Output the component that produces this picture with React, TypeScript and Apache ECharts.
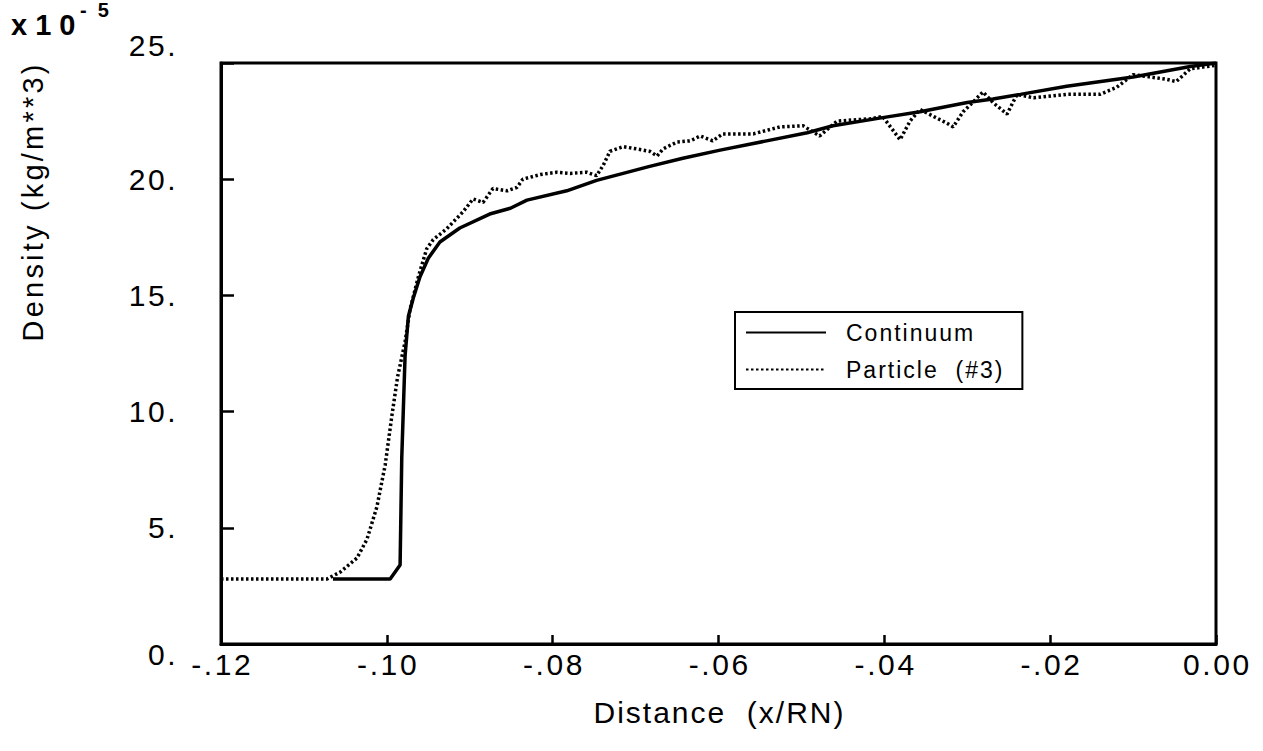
import React, { useEffect, useRef } from "react";
import * as echarts from "echarts";

const FONT = '"Liberation Sans", Arial, Helvetica, sans-serif';

// Continuum (solid): [x/RN, density x 1e-5 kg/m^3]
const continuum: [number, number][] = [
  [-0.1065, 2.8], [-0.0996, 2.8], [-0.0984, 3.4], [-0.0982, 8.0], [-0.0978, 12.4],
  [-0.0974, 14.1], [-0.0968, 14.9], [-0.096, 15.8], [-0.095, 16.6], [-0.0936, 17.3],
  [-0.0912, 17.9], [-0.0876, 18.5], [-0.0851, 18.75], [-0.0831, 19.1], [-0.0783, 19.5],
  [-0.0747, 19.95], [-0.0683, 20.55], [-0.0643, 20.9], [-0.0598, 21.25], [-0.0542, 21.65],
  [-0.0493, 22.0], [-0.0462, 22.3], [-0.0402, 22.65], [-0.0357, 22.9], [-0.03, 23.3],
  [-0.0269, 23.45], [-0.0236, 23.65], [-0.018, 24.0], [-0.01, 24.4], [-0.0031, 24.85],
  [0, 25.0],
];

// Particle (#3) (dotted)
const particle: [number, number][] = [
  [-0.12, 2.8], [-0.1072, 2.8], [-0.1056, 3.1], [-0.1036, 3.7], [-0.1024, 4.5],
  [-0.1012, 5.9], [-0.1002, 7.7], [-0.0994, 9.8], [-0.0987, 11.5], [-0.0978, 13.0],
  [-0.0972, 14.4], [-0.0962, 15.8], [-0.0952, 17.0], [-0.0944, 17.4], [-0.0928, 17.86],
  [-0.0908, 18.6], [-0.0896, 19.15], [-0.0884, 19.0], [-0.0872, 19.6], [-0.0855, 19.5],
  [-0.0843, 19.65], [-0.0836, 20.0], [-0.0815, 20.2], [-0.0795, 20.3], [-0.0779, 20.25],
  [-0.0759, 20.3], [-0.0747, 20.15], [-0.0739, 20.6], [-0.0731, 21.2], [-0.0715, 21.4],
  [-0.0698, 21.3], [-0.0683, 21.2], [-0.0674, 21.0], [-0.0667, 21.3], [-0.065, 21.6],
  [-0.0634, 21.65], [-0.0622, 21.86], [-0.0607, 21.65], [-0.0595, 21.95], [-0.0558, 21.95],
  [-0.0526, 22.25], [-0.0498, 22.3], [-0.0478, 21.86], [-0.0457, 22.5], [-0.0417, 22.6],
  [-0.0402, 22.7], [-0.0381, 21.7], [-0.0369, 22.5], [-0.0357, 23.0], [-0.0324, 22.4],
  [-0.0317, 22.25], [-0.0305, 22.9], [-0.0281, 23.75], [-0.0269, 23.3], [-0.0252, 22.8],
  [-0.024, 23.65], [-0.022, 23.5], [-0.018, 23.65], [-0.014, 23.65], [-0.012, 23.95],
  [-0.01, 24.5], [-0.006, 24.3], [-0.0048, 24.2], [-0.0031, 24.75], [0, 24.9],
];

const seriesNames = ["Continuum", "Particle\u00a0\u00a0(#3)"];
const xAxisTitle = "Distance  (x/RN)";
const yAxisTitle = "Density (kg/m**3)";
const scaleMain = "x 1 0";
const scaleExp = "-  5";

function spaced(s: string, style: string): string {
  return s
    .split("")
    .map((ch) => `{${style}|${ch === " " ? "\u00a0" : ch}}`)
    .join("");
}

function xLabel(v: number): string {
  const n = Math.round(Math.abs(v) * 100);
  if (n === 0) return "0.00";
  return "-." + String(n).padStart(2, "0");
}

export default function App() {
  const ref = useRef<HTMLDivElement>(null);
  useEffect(() => {
    if (!ref.current) return;
    const chart = echarts.init(ref.current, null, { renderer: "svg" });
    const tick = { fontSize: 30, fontFamily: FONT, color: "#000", padding: [0, 1.3, 0, 1.3] };
    chart.setOption({
      animation: false,
      backgroundColor: "#fff",
      color: ["#000", "#000"],
      textStyle: { fontFamily: FONT, color: "#000" },
      grid: {
        left: 221,
        top: 63,
        right: 47,
        bottom: 107,
        show: true,
        borderColor: "#000",
        borderWidth: 3,
      },
      legend: {
        orient: "vertical",
        left: 735,
        top: 312,
        data: seriesNames,
        borderColor: "#000",
        borderWidth: 2,
        padding: [9, 20, 8, 10],
        itemGap: 14,
        itemWidth: 80,
        itemHeight: 20,
        itemStyle: { opacity: 0 },
        formatter: (name: string) => spaced(name, "c"),
        textStyle: {
          fontFamily: FONT,
          color: "#000",
          padding: [0, 0, 0, 14],
          rich: { c: { fontSize: 23, fontFamily: FONT, color: "#000", padding: [0, 1, 0, 1] } },
        },
      },
      xAxis: {
        type: "value",
        min: -0.12,
        max: 0,
        interval: 0.02,
        splitLine: { show: false },
        axisLine: { show: true, onZero: false, lineStyle: { color: "#000", width: 3 } },
        axisTick: { show: true, inside: true, length: 9, lineStyle: { color: "#000", width: 2.5 } },
        axisLabel: {
          margin: 5,
          formatter: (v: number) => spaced(xLabel(v), "c"),
          rich: { c: tick },
        },
        name: spaced(xAxisTitle, "c"),
        nameLocation: "middle",
        nameGap: 53,
        nameTextStyle: { rich: { c: { ...tick, padding: [0, 1, 0, 1] } } },
      },
      yAxis: {
        type: "value",
        min: 0,
        max: 25,
        interval: 5,
        splitLine: { show: false },
        axisLine: { show: true, onZero: false, lineStyle: { color: "#000", width: 3 } },
        axisTick: { show: true, inside: true, length: 13, lineStyle: { color: "#000", width: 2.5 } },
        axisLabel: {
          margin: 44,
          formatter: (v: number) =>
            v === 25 ? spaced("25.", "t") : v === 0 ? spaced("0.", "b") : spaced(`${v}.`, "c"),
          rich: {
            c: tick,
            t: { ...tick, padding: [0, 1.3, 36, 1.3] },
            b: { ...tick, padding: [20, 1.3, 0, 1.3] },
          },
        },
        name: spaced(yAxisTitle, "c"),
        nameLocation: "middle",
        nameGap: 174,
        nameRotate: 90,
        nameTextStyle: {
          padding: [0, 0, 0, 301],
          rich: { c: { fontSize: 29, fontFamily: FONT, color: "#000", padding: [0, 1.6, 0, 1.6] } },
        },
      },
      graphic: [
        {
          type: "text",
          x: 11,
          y: 10,
          style: { text: scaleMain, font: `bold 29px ${FONT}`, fill: "#000" },
        },
        {
          type: "text",
          x: 80,
          y: 0,
          style: { text: scaleExp, font: `bold 20px ${FONT}`, fill: "#000" },
        },
      ],
      series: [
        {
          name: seriesNames[0],
          type: "line",
          data: continuum,
          symbol: "none",
          showSymbol: false,
          itemStyle: { color: "#000" },
          lineStyle: { color: "#000", width: 3.5 },
          z: 3,
        },
        {
          name: seriesNames[1],
          type: "line",
          data: particle,
          symbol: "none",
          showSymbol: false,
          itemStyle: { color: "#000" },
          lineStyle: { color: "#000", width: 3.5, type: [2.5, 2.5] },
          z: 2,
        },
      ],
    });
    return () => chart.dispose();
  }, []);
  return (
    <div
      ref={ref}
      style={{ position: "fixed", left: 0, top: 0, width: 1263, height: 751, background: "#fff" }}
    />
  );
}
